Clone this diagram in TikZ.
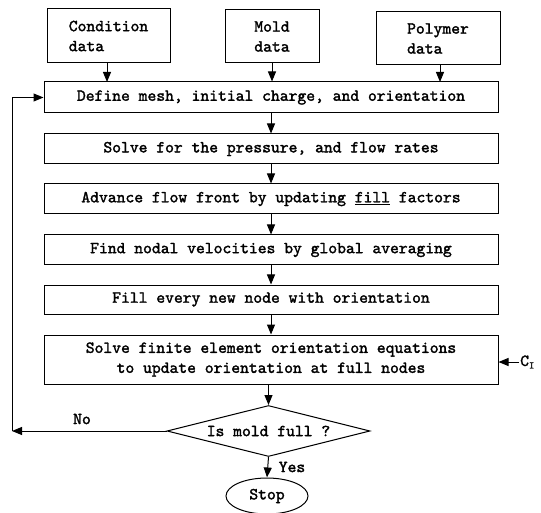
\documentclass[tikz,border=0pt]{standalone}
\usepackage{fontspec}
\newfontfamily\typew{lmmono10-regular.otf}[FakeBold=1.8]
\usetikzlibrary{shapes.geometric,arrows.meta}
\begin{document}
\begin{tikzpicture}[x=1pt,y=-1pt,
  every node/.style={font=\fontsize{16.8}{20}\selectfont\typew},
  box/.style={draw,line width=1pt,minimum width=454pt,inner sep=0pt},
  inbox/.style={draw,line width=1pt,inner sep=0pt,align=left},
  arr/.style={line width=1pt,-{Triangle[length=10pt,width=8pt]}},
  ln/.style={line width=1pt}]
\useasboundingbox (0,0) rectangle (541,513);
% top data boxes
\node[inbox,minimum width=123pt,minimum height=54pt] (cond) at (108.5,36) {Condition\\data};
\node[inbox,minimum width=94pt,minimum height=53pt] (mold) at (272,36.5) {Mold\\data};
\node[inbox,minimum width=124pt,minimum height=53pt] (poly) at (438,38.5) {Polymer\\data};
% main boxes
\node[box,minimum height=31pt] (define) at (271,97.5) {Define mesh, initial charge, and orientation};
\node[box,minimum height=30pt] (press) at (271,149) {Solve for the pressure, and flow rates};
\node[box,minimum height=30pt] (adv) at (271,199) {Advance flow front by updating \underline{fill} factors};
\node[box,minimum height=30pt] (find) at (271,250) {Find nodal velocities by global averaging};
\node[box,minimum height=29pt] (fill) at (271,299.5) {Fill every new node with orientation};
\node[box,minimum height=49pt,align=center] (fem) at (271,359.5) {Solve finite element orientation equations\\to update orientation at full nodes};
\node[draw,line width=1pt,diamond,aspect=4,minimum width=203pt,minimum height=51pt,inner sep=0pt] (dia) at (268.5,431) {Is mold full ?};
\node[draw,line width=1pt,ellipse,minimum width=82pt,minimum height=36pt,inner sep=0pt] (stop) at (267,496) {Stop};
% arrows
\draw[arr] (cond.south -| 107,0) -- (107,82);
\draw[arr] (mold.south) -- (mold.south |- define.north);
\draw[arr] (poly.south -| 440,0) -- (440,82);
\draw[arr] (define) -- (press);
\draw[arr] (press) -- (adv);
\draw[arr] (adv) -- (find);
\draw[arr] (find) -- (fill);
\draw[arr] (fill) -- (fem);
\draw[arr] (fem.south -| dia.north) -- (dia.north);
\draw[arr] (dia.south) -- (stop.north);
\coordinate (fbl) at (12,431);
\draw[arr] (dia.west) -- (fbl);
\draw[arr] (fbl) |- (define.west);
\coordinate (ci) at (519,362);
\draw[arr] (ci) -- (ci -| fem.east);
\node[anchor=west,inner sep=0pt] (cilab) at (520,362) {C\raisebox{-0.35ex}{\fontsize{10}{10}\selectfont I}};
\node (no) at (82,419) {No};
\node (yes) at (292,467) {Yes};
\end{tikzpicture}
\end{document}
